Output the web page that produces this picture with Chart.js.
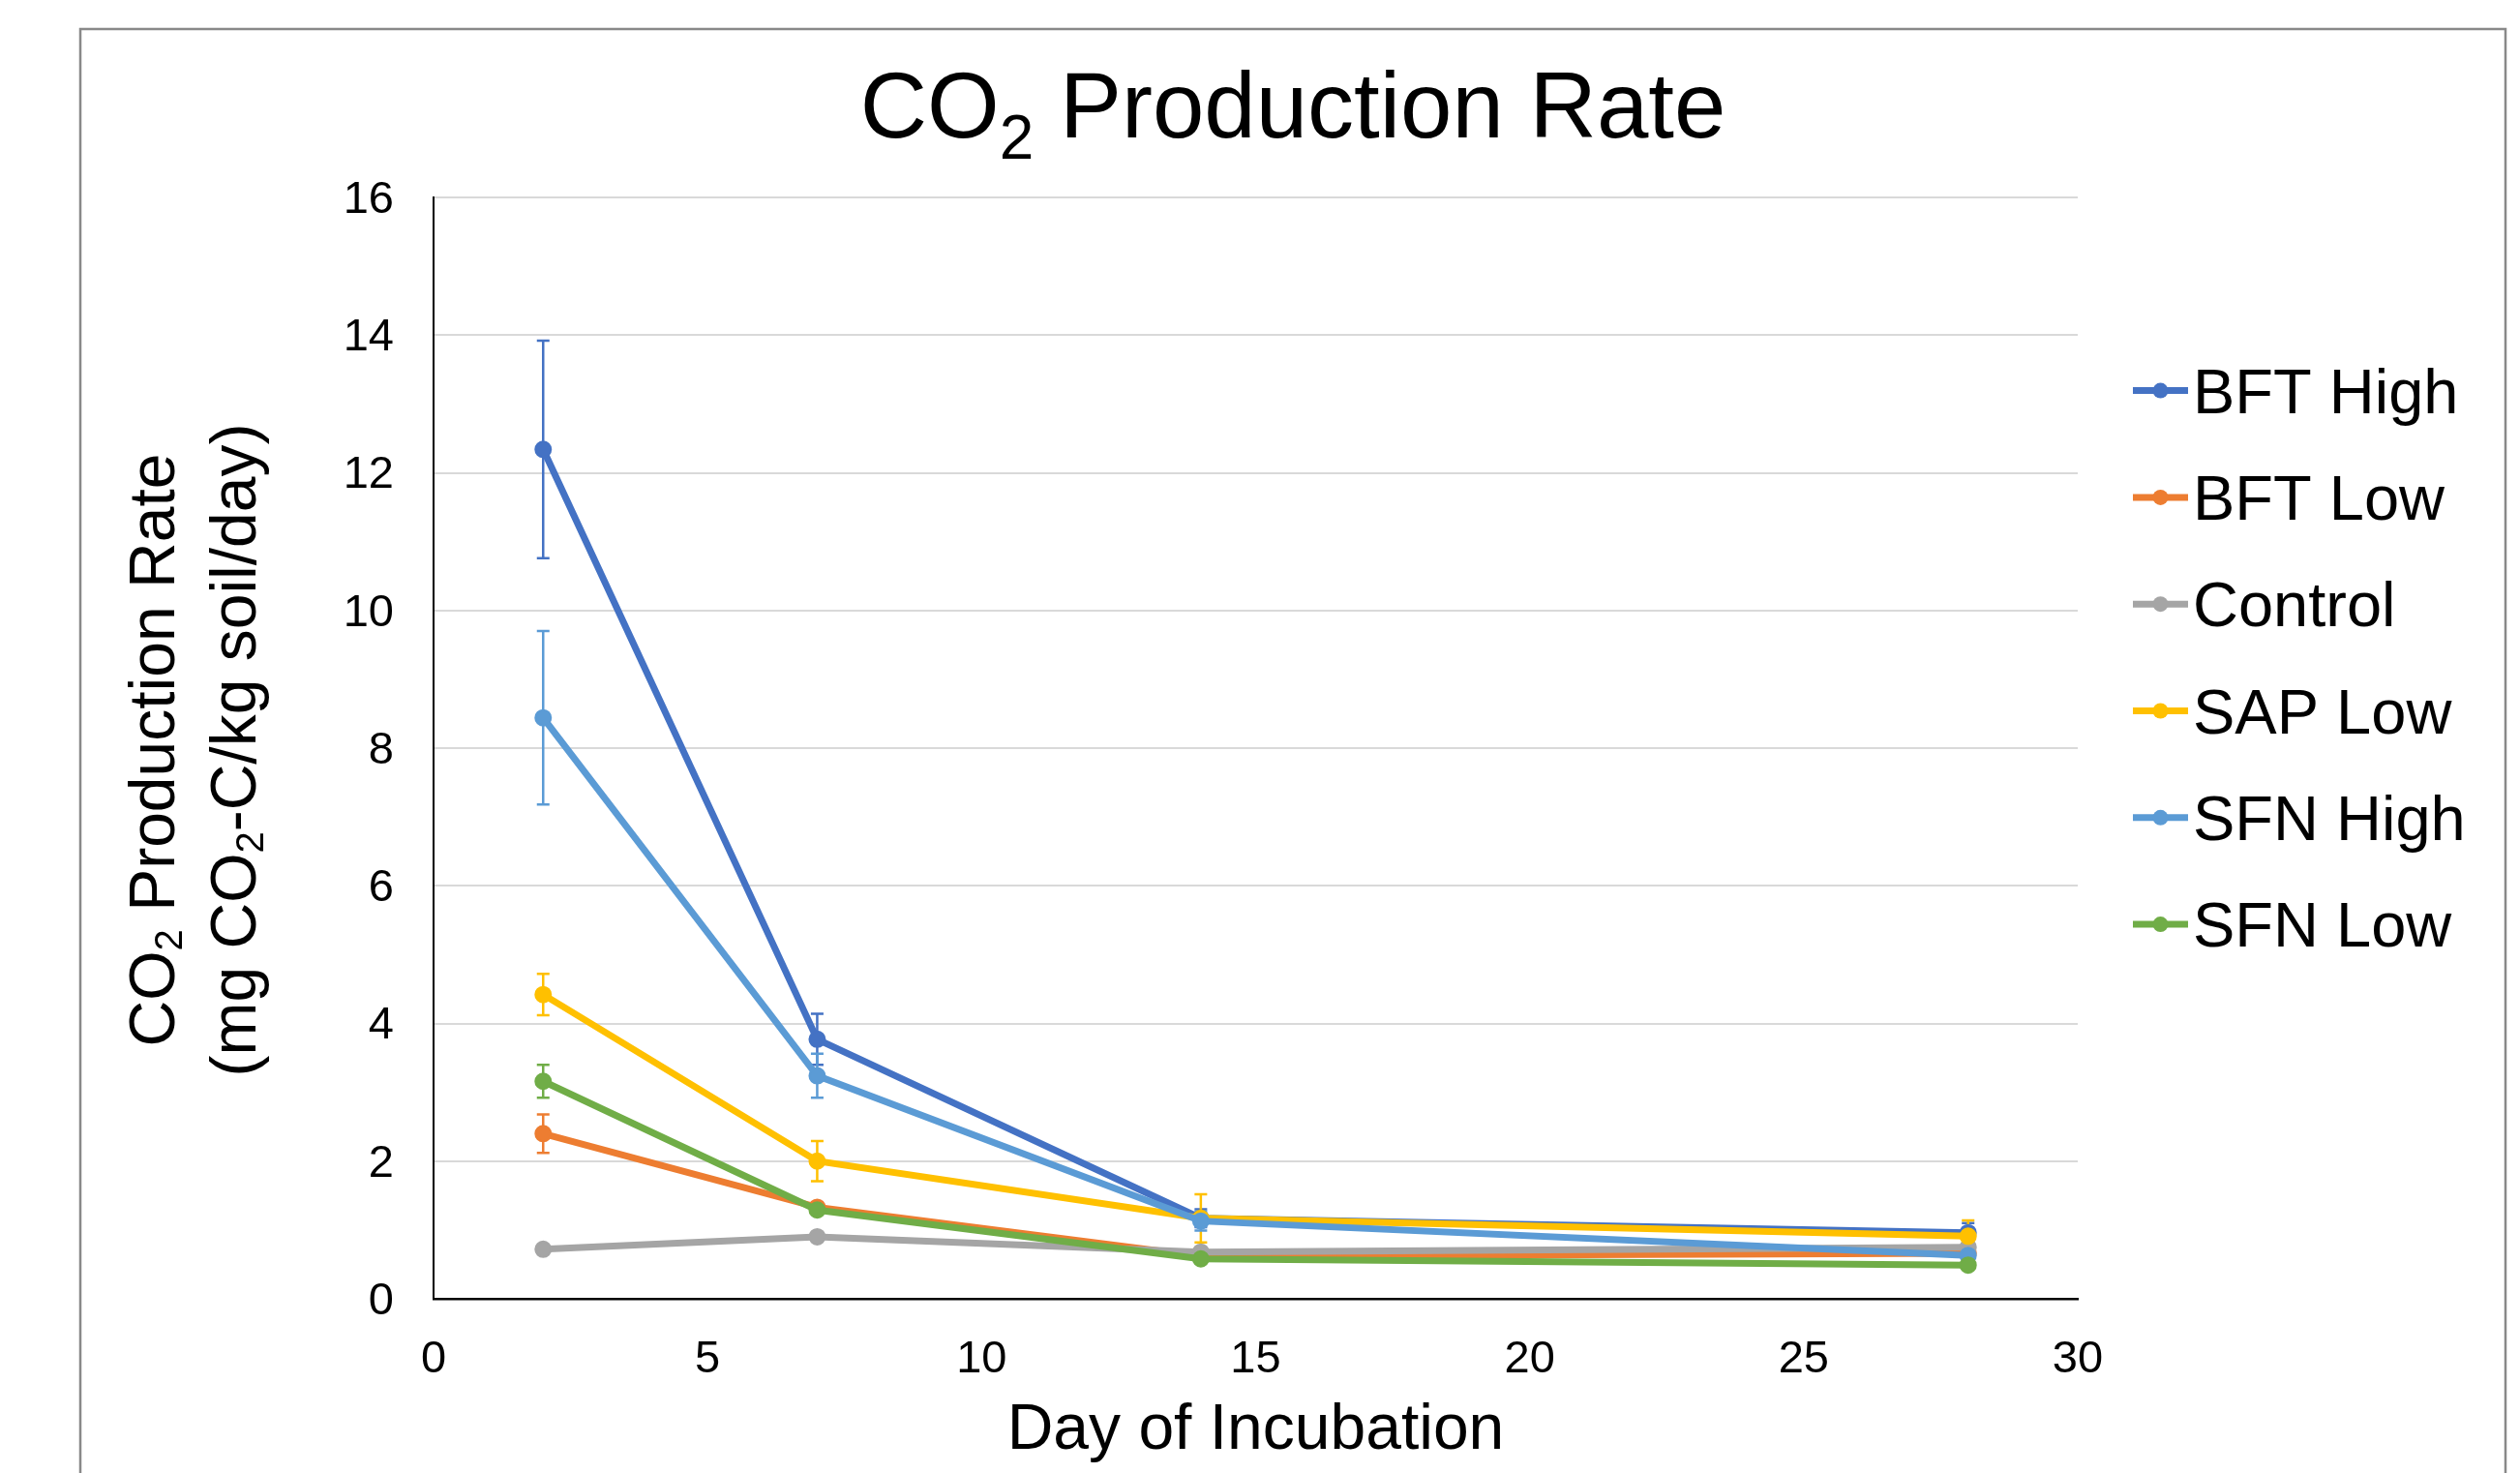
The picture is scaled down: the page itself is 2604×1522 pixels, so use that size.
<!DOCTYPE html>
<html>
<head>
<meta charset="utf-8">
<script src="https://cdn.jsdelivr.net/npm/chart.js@4.4.0/dist/chart.umd.min.js"></script>
<style>
  html, body { margin: 0; padding: 0; background: #fff; }
  #wrap { width: 2604px; height: 1522px; }
</style>
</head>
<body>
<div id="wrap"><canvas id="co2Chart"></canvas></div>
<script>
const FONT = '"Liberation Sans", Arial, sans-serif';

// day of incubation
const days = [2, 7, 14, 28];

const seriesNames = ['BFT High', 'BFT Low', 'Control', 'SAP Low', 'SFN High', 'SFN Low'];
const seriesColors = ['#4472C4', '#ED7D31', '#A5A5A5', '#FFC000', '#5B9BD5', '#70AD47'];

// mean CO2 production rate (mg CO2-C/kg soil/day)
const bftHigh = [12.34, 3.77, 1.17, 0.96];
const bftLow  = [2.40, 1.33, 0.62, 0.66];
const control = [0.72, 0.90, 0.68, 0.75];
const sapLow  = [4.42, 2.00, 1.17, 0.91];
const sfnHigh = [8.44, 3.24, 1.13, 0.63];
const sfnLow  = [3.16, 1.29, 0.58, 0.49];

// error bar half-lengths
const bftHighErr = [1.58, 0.37, 0.13, 0.14];
const bftLowErr  = [0.28, 0.05, 0.05, 0.05];
const controlErr = [0.05, 0.04, 0.03, 0.04];
const sapLowErr  = [0.30, 0.29, 0.35, 0.23];
const sfnHighErr = [1.26, 0.32, 0.14, 0.08];
const sfnLowErr  = [0.24, 0.05, 0.04, 0.04];

const seriesValues = [bftHigh, bftLow, control, sapLow, sfnHigh, sfnLow];
const seriesErrors = [bftHighErr, bftLowErr, controlErr, sapLowErr, sfnHighErr, sfnLowErr];

const xTickStep = 5;
const yTickStep = 2;


// draws text made of normal and subscript pieces, centred on x
function drawRich(ctx, parts, x, y, size, subSize, subDrop) {
  let total = 0;
  parts.forEach(p => {
    ctx.font = (p.sub ? subSize : size) + 'px ' + FONT;
    p.w = ctx.measureText(p.t).width;
    total += p.w;
  });
  let cx = x - total / 2;
  parts.forEach(p => {
    ctx.font = (p.sub ? subSize : size) + 'px ' + FONT;
    ctx.fillText(p.t, cx, p.sub ? y + subDrop : y);
    cx += p.w;
  });
}

const framePlugin = {
  id: 'frame',
  beforeDraw(chart) {
    const ctx = chart.ctx;
    ctx.save();
    ctx.fillStyle = '#fff';
    ctx.fillRect(0, 0, chart.width, chart.height);
    ctx.strokeStyle = '#898989';
    ctx.lineWidth = 2.5;
    ctx.strokeRect(83, 30, 2506, 1600);
    ctx.restore();
  }
};

const errorBarPlugin = {
  id: 'errorBars',
  beforeDatasetsDraw(chart) {
    const ctx = chart.ctx;
    const xs = chart.scales.x, ys = chart.scales.y;
    ctx.save();
    ctx.lineWidth = 2.5;
    seriesValues.forEach((vals, i) => {
      ctx.strokeStyle = seriesColors[i];
      vals.forEach((v, j) => {
        const px = xs.getPixelForValue(days[j]);
        const top = ys.getPixelForValue(v + seriesErrors[i][j]);
        const bot = ys.getPixelForValue(v - seriesErrors[i][j]);
        ctx.beginPath();
        ctx.moveTo(px, top); ctx.lineTo(px, bot);
        ctx.moveTo(px - 6.5, top); ctx.lineTo(px + 6.5, top);
        ctx.moveTo(px - 6.5, bot); ctx.lineTo(px + 6.5, bot);
        ctx.stroke();
      });
    });
    ctx.restore();
  }
};

const textPlugin = {
  id: 'texts',
  afterDraw(chart) {
    const ctx = chart.ctx;
    const area = chart.chartArea;
    ctx.save();
    ctx.fillStyle = '#000';
    ctx.textBaseline = 'alphabetic';
    ctx.textAlign = 'left';

    // chart title
    drawRich(ctx, [{t: 'CO'}, {t: '2', sub: true}, {t: ' Production Rate'}],
      1336, 142, 96, 64, 22);

    // x axis title
    drawRich(ctx, [{t: 'Day of Incubation'}], (area.left + area.right) / 2, 1497, 66, 66, 0);

    // y axis title, two lines
    const cy = (area.top + area.bottom) / 2 + 2;
    ctx.save();
    ctx.translate(180, cy);
    ctx.rotate(-Math.PI / 2);
    drawRich(ctx, [{t: 'CO'}, {t: '2', sub: true}, {t: ' Production Rate'}], 0, 0, 66, 40, 8);
    ctx.restore();
    ctx.save();
    ctx.translate(264, cy);
    ctx.rotate(-Math.PI / 2);
    drawRich(ctx, [{t: '(mg CO'}, {t: '2', sub: true}, {t: '-C/kg soil/day)'}], 0, 0, 66, 40, 8);
    ctx.restore();

    // legend
    ctx.font = '65px ' + FONT;
    seriesNames.forEach((name, i) => {
      const y = 403.6 + i * 110.3;
      ctx.strokeStyle = seriesColors[i];
      ctx.fillStyle = seriesColors[i];
      ctx.lineWidth = 7;
      ctx.beginPath();
      ctx.moveTo(2204, y); ctx.lineTo(2261, y);
      ctx.stroke();
      ctx.beginPath();
      ctx.arc(2232.5, y, 8, 0, Math.PI * 2);
      ctx.fill();
      ctx.fillStyle = '#000';
      ctx.fillText(name, 2266, y + 23);
    });
    ctx.restore();
  }
};

const ctx = document.getElementById('co2Chart').getContext('2d');

const co2Chart = new Chart(ctx, {
  type: 'line',
  data: {
    datasets: seriesNames.map((name, i) => ({
      label: name,
      data: days.map((d, j) => ({ x: d, y: seriesValues[i][j] })),
      borderColor: seriesColors[i],
      backgroundColor: seriesColors[i],
      pointBackgroundColor: seriesColors[i],
      pointBorderColor: seriesColors[i],
      borderWidth: 7,
      pointRadius: 8,
      pointBorderWidth: 2,
      tension: 0,
      order: seriesNames.length - i   // later series on top, like the original
    }))
  },
  options: {
    responsive: true,
    maintainAspectRatio: false,
    animation: false,
    layout: { padding: { left: 0, top: 204, right: 457, bottom: 0 } },
    plugins: {
      legend: { display: false },
      title: { display: false },
      tooltip: { enabled: false }
    },
    scales: {
      x: {
        type: 'linear',
        min: 0,
        max: 30,
        ticks: { stepSize: xTickStep, padding: 35, color: '#000', font: { size: 47, family: FONT } },
        grid: { display: false, drawTicks: false },
        border: { display: true, color: '#000', width: 2.5 },
        afterFit: (s) => { s.height = 180; }
      },
      y: {
        min: 0,
        max: 16,
        ticks: { stepSize: yTickStep, padding: 41, labelOffset: 3, color: '#000', font: { size: 47, family: FONT } },
        grid: {
          drawTicks: false,
          lineWidth: 2,
          color: (c) => (c.tick && c.tick.value === 0) ? 'rgba(0,0,0,0)' : '#D9D9D9'
        },
        border: { display: true, color: '#000', width: 2 },
        afterFit: (s) => { s.width = 448; }
      }
    }
  },
  plugins: [framePlugin, errorBarPlugin, textPlugin]
});
</script>
</body>
</html>
